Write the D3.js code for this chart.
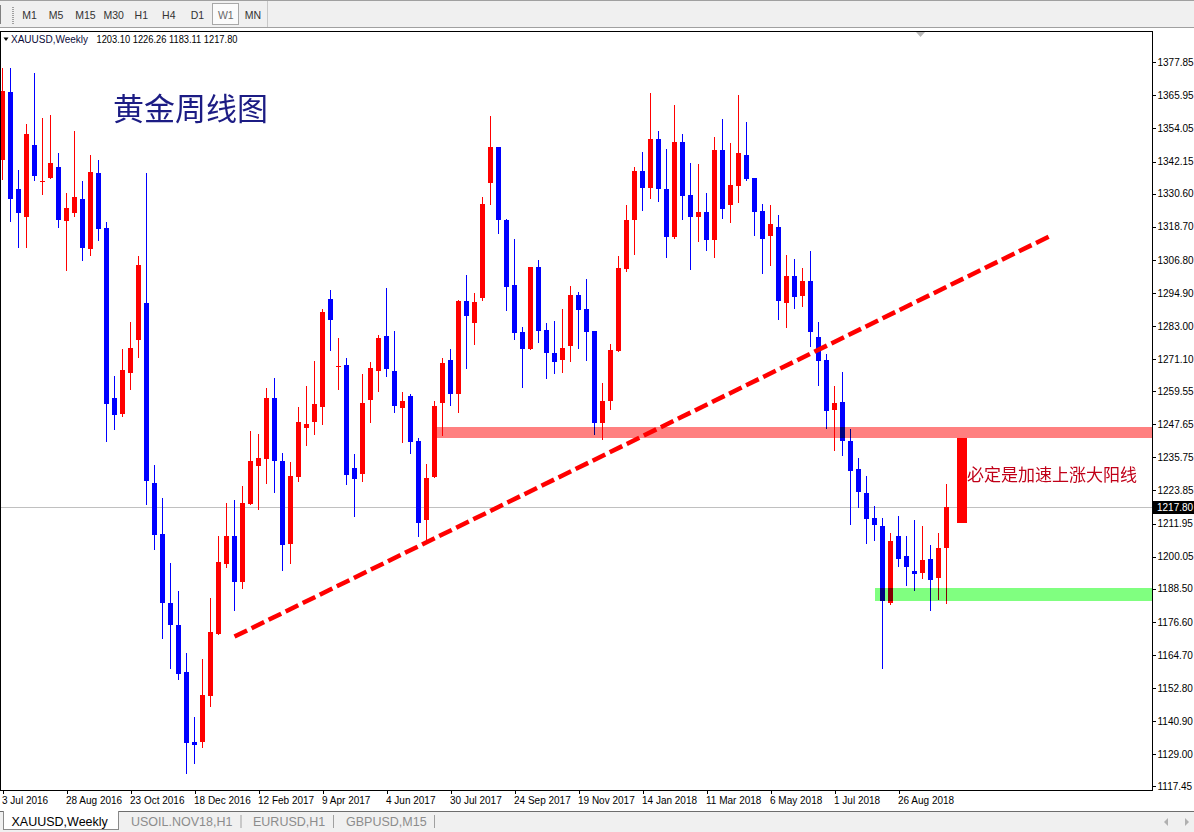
<!DOCTYPE html>
<html><head><meta charset="utf-8">
<script src="https://cdn.jsdelivr.net/npm/d3@7"></script>
<style>
html,body{margin:0;padding:0;background:#fff;overflow:hidden}
svg{display:block}
text{font-family:"Liberation Sans",Arial,sans-serif}
</style></head><body>
<svg id="c" width="1194" height="832"></svg>
<script>
// ---------------- data ----------------
const openP=[1342.8,1367.3,1332.2,1322.3,1348.1,1334.7,1336.3,1340.1,1320.8,1323.7,1328.6,1310.7,1338.0,1318.4,1257.1,1251.5,1266.2,1278.1,1291.4,1226.5,1208.1,1183.5,1175.6,1158.7,1133.5,1133.5,1150.0,1172.4,1197.3,1207.6,1190.8,1218.9,1232.6,1235.0,1257.1,1234.6,1204.5,1228.6,1246.3,1248.4,1253.8,1292.6,1268.2,1268.8,1232.0,1229.7,1256.4,1266.8,1279.3,1267.0,1253.5,1258.0,1241.7,1213.1,1228.6,1255.3,1270.6,1258.5,1291.9,1284.1,1293.1,1334.5,1347.3,1321.2,1297.7,1280.7,1274.7,1304.1,1281.5,1273.4,1270.8,1275.8,1294.1,1289.0,1281.1,1248.1,1256.0,1274.0,1303.5,1321.2,1338.7,1332.7,1350.2,1332.3,1315.0,1349.2,1330.1,1322.3,1323.9,1314.0,1346.3,1326.6,1333.4,1344.5,1336.2,1324.3,1315.4,1318.5,1291.3,1300.9,1293.8,1299.1,1278.9,1270.6,1252.8,1255.5,1241.5,1231.4,1223.1,1213.8,1211.2,1183.3,1207.3,1200.4,1195.0,1194.1,1199.3,1192.3,1203.10];
const highP=[1375.8,1375.7,1339.1,1355.6,1373.9,1357.7,1358.9,1345.1,1330.7,1353.1,1335.1,1344.4,1342.7,1320.3,1265.0,1274.8,1284.6,1308.3,1337.9,1232.9,1221.0,1197.6,1187.8,1165.5,1142.5,1163.4,1185.1,1207.4,1219.3,1220.6,1225.6,1245.1,1244.0,1260.7,1264.2,1237.2,1234.0,1253.8,1261.3,1270.3,1289.0,1295.9,1278.6,1271.4,1236.8,1265.6,1269.9,1279.7,1296.6,1281.2,1259.1,1258.4,1242.8,1233.2,1255.9,1271.4,1274.6,1292.5,1301.4,1294.8,1329.3,1358.5,1347.5,1321.4,1314.2,1282.5,1304.3,1306.7,1284.0,1284.7,1289.0,1297.4,1295.1,1299.8,1281.3,1262.4,1276.4,1308.1,1326.5,1340.1,1345.5,1366.8,1353.1,1346.6,1362.5,1352.0,1341.6,1341.2,1330.8,1351.0,1357.4,1348.8,1366.1,1356.4,1336.4,1326.8,1326.5,1322.9,1308.5,1307.0,1303.8,1309.9,1284.3,1272.8,1261.3,1266.3,1245.8,1235.4,1228.9,1218.1,1214.1,1208.7,1214.5,1207.3,1213.1,1211.2,1204.4,1208.4,1226.26];
const lowP=[1335.6,1320.5,1311.1,1311.1,1335.2,1330.3,1336.0,1318.3,1302.8,1322.3,1306.4,1308.2,1313.6,1241.2,1245.7,1250.1,1260.1,1271.4,1218.7,1202.4,1170.6,1159.8,1155.7,1121.9,1125.4,1131.4,1145.8,1171.9,1196.0,1180.4,1188.4,1218.5,1216.7,1226.1,1222.9,1194.8,1197.3,1226.8,1239.8,1243.7,1247.4,1274.0,1259.9,1225.7,1214.2,1226.8,1248.1,1259.2,1264.6,1251.7,1240.9,1236.9,1207.0,1205.8,1228.3,1243.6,1254.2,1251.7,1267.5,1276.2,1292.0,1326.6,1316.1,1288.4,1278.0,1260.7,1274.5,1276.9,1263.9,1265.7,1266.1,1270.0,1274.7,1270.4,1243.7,1241.9,1252.8,1273.8,1302.4,1308.6,1324.4,1328.7,1327.7,1307.5,1314.3,1321.2,1303.2,1313.2,1310.0,1307.5,1321.5,1320.1,1327.3,1335.2,1315.4,1301.7,1304.6,1285.2,1282.3,1289.1,1289.8,1275.4,1261.4,1245.9,1238.0,1236.2,1211.3,1217.5,1204.5,1205.6,1159.8,1182.5,1196.2,1189.4,1187.6,1191.9,1180.4,1184.3,1183.11];
const closeP=[1367.5,1328.7,1323.7,1352.0,1337.0,1335.2,1341.5,1321.2,1325.4,1329.3,1311.1,1338.3,1317.9,1254.8,1251.1,1267.2,1275.1,1304.8,1227.3,1207.9,1183.4,1175.4,1158.0,1132.9,1132.3,1150.4,1173.1,1198.3,1207.6,1190.8,1219.2,1234.3,1235.7,1257.1,1234.3,1204.1,1228.9,1248.3,1247.6,1254.8,1287.9,1285.2,1268.7,1229.3,1227.9,1255.2,1267.8,1278.6,1267.5,1254.2,1256.2,1241.2,1212.1,1228.5,1254.4,1269.6,1258.5,1291.9,1286.6,1291.5,1326.8,1347.3,1321.2,1297.0,1280.5,1274.7,1304.1,1281.2,1273.3,1270.0,1275.2,1294.1,1288.8,1280.8,1248.1,1255.9,1274.2,1303.8,1321.1,1338.7,1332.7,1350.2,1332.3,1315.0,1349.2,1329.8,1322.3,1323.9,1314.0,1346.3,1325.1,1333.7,1345.2,1335.9,1324.1,1314.3,1319.6,1292.0,1300.9,1293.4,1299.1,1280.8,1270.4,1252.4,1255.2,1241.6,1230.8,1223.2,1213.5,1211.3,1184.0,1205.8,1199.1,1196.2,1193.7,1199.0,1191.5,1203.3,1217.80];

const priceTicks=[1377.85,1365.95,1354.05,1342.15,1330.60,1318.70,1306.80,1294.90,1283.00,1271.10,1259.55,1247.65,1235.75,1223.85,1211.95,1200.05,1188.50,1176.60,1164.70,1152.80,1140.90,1129.00,1117.45];
const dateLabels=["3 Jul 2016","28 Aug 2016","23 Oct 2016","18 Dec 2016","12 Feb 2017","9 Apr 2017","4 Jun 2017","30 Jul 2017","24 Sep 2017","19 Nov 2017","14 Jan 2018","11 Mar 2018","6 May 2018","1 Jul 2018","26 Aug 2018"];
const dateStep=8;
const lastPrice=1217.80;
const headerText="XAUUSD,Weekly";
const headerValues="1203.10 1226.26 1183.11 1217.80";
const resistanceZone={from:54,top:1246.5,bottom:1242.7};
const supportZone={from:109,top:1188.9,bottom:1184.0};
const trendLine={i1:29,p1:1171.3,i2:130.9,p2:1315.3};
const forecastBar={i0:119.3,i1:120.55,top:1242.9,bottom:1212.1};
const titleText="黄金周线图";
const noteText="必定是加速上涨大阳线";
const timeframes=["M1","M5","M15","M30","H1","H4","D1","W1","MN"];
const timeframeX=[29.5,56,85.5,113.7,141.3,168.8,197.5,225.8,253];
const tabs=["XAUUSD,Weekly","USOIL.NOV18,H1","EURUSD,H1","GBPUSD,M15"];
const tabX=[11.5,131,253,346];

// ---------------- layout ----------------
const L=0,R=1152,T=31,B=790;
const svg=d3.select("#c");
const x=d3.scaleLinear().domain([0,openP.length-1]).range([2.5,2.5+8*(openP.length-1)]);
const y=d3.scaleLinear().domain([1117.45,1377.85]).range([786.3,62.3]);

svg.append("rect").attr("width",1194).attr("height",832).attr("fill","#fff");

const defs=svg.append("defs");
defs.append("clipPath").attr("id","plot").append("rect").attr("x",L+1).attr("y",T+1).attr("width",R-L-1).attr("height",B-T-1);

const plot=svg.append("g").attr("clip-path","url(#plot)");

// last price line
plot.append("line").attr("x1",L).attr("x2",R).attr("y1",Math.round(y(lastPrice))+0.5).attr("y2",Math.round(y(lastPrice))+0.5)
  .attr("stroke","#c0c0c0").attr("stroke-width",1);

// candles
const data=openP.map((o,i)=>({i,o,h:highP[i],l:lowP[i],c:closeP[i]}));
const cg=plot.append("g").attr("shape-rendering","crispEdges");
const col=d=>d.c>=d.o?"#ff0000":"#0000ff";
cg.selectAll(".wick").data(data).enter().append("rect")
  .attr("x",d=>x(d.i)-0.5).attr("width",1)
  .attr("y",d=>Math.round(y(d.h))).attr("height",d=>Math.max(1,Math.round(y(d.l))-Math.round(y(d.h))))
  .attr("fill",col);
cg.selectAll(".body").data(data).enter().append("rect")
  .attr("x",d=>x(d.i)-2.5).attr("width",5)
  .attr("y",d=>Math.round(y(Math.max(d.o,d.c))))
  .attr("height",d=>Math.max(1,Math.round(y(Math.min(d.o,d.c)))-Math.round(y(Math.max(d.o,d.c)))))
  .attr("fill",col);

// zones (multiply blend like MT4 background objects)
[[resistanceZone,"#ff8080"],[supportZone,"#80ff80"]].forEach(([z,c])=>{
  plot.append("rect").attr("x",x(z.from)).attr("width",R+3-x(z.from))
    .attr("y",Math.round(y(z.top))).attr("height",Math.round(y(z.bottom))-Math.round(y(z.top)))
    .attr("fill",c).style("mix-blend-mode","multiply").attr("shape-rendering","crispEdges");
});

// trend line
plot.append("line").attr("x1",x(trendLine.i1)).attr("y1",y(trendLine.p1))
  .attr("x2",x(trendLine.i2)).attr("y2",y(trendLine.p2))
  .attr("stroke","#ff0000").attr("stroke-width",4.5).attr("stroke-dasharray","14,5");

// forecast bar
plot.append("rect").attr("x",x(forecastBar.i0)).attr("width",x(forecastBar.i1)-x(forecastBar.i0))
  .attr("y",y(forecastBar.top)).attr("height",y(forecastBar.bottom)-y(forecastBar.top))
  .attr("fill","#ff0000").attr("shape-rendering","crispEdges");

// texts
plot.append("text").attr("x",113).attr("y",120).text(titleText)
  .style("font-family","'Noto Sans CJK SC',sans-serif").style("font-size","31px").attr("fill","#1c1c84");
plot.append("text").attr("x",967).attr("y",481).text(noteText)
  .style("font-family","'Noto Sans CJK SC',sans-serif").style("font-size","17px").attr("fill","#c00018");

// chart shift marker
plot.append("path").attr("d","M916,32 L925,32 L920.5,37 Z").attr("fill","#b8b8b8");

// header
const hdr=svg.append("g");
hdr.append("path").attr("d","M3.5,37.5 L8.5,37.5 L6,41 Z").attr("fill","#000");
hdr.append("text").attr("x",11).attr("y",43).text(headerText).style("font-size","10px").attr("fill","#0b0b3a");
hdr.append("text").attr("x",96.5).attr("y",43).text(headerValues).style("font-size","10px").attr("fill","#000")
  .attr("textLength",141).attr("lengthAdjust","spacingAndGlyphs");

// frame
svg.append("rect").attr("x",L+0.5).attr("y",T+0.5).attr("width",R-L).attr("height",B-T-0.5)
  .attr("fill","none").attr("stroke","#000").attr("stroke-width",1).attr("shape-rendering","crispEdges");

// right axis
const ya=svg.append("g").attr("transform",`translate(${R+0.5},0)`)
  .call(d3.axisRight(y).tickValues(priceTicks).tickSize(3).tickPadding(2).tickFormat(d=>d.toFixed(2)));
ya.select(".domain").remove();
ya.selectAll("line").attr("stroke","#000").attr("shape-rendering","crispEdges");
ya.selectAll("text").style("font-family","'Liberation Sans',Arial,sans-serif").style("font-size","10px").attr("fill","#000");

// last price box
const ly=y(lastPrice);
svg.append("rect").attr("x",R+1).attr("y",Math.round(ly)-6).attr("width",1194-R-1).attr("height",13).attr("fill","#000");
svg.append("text").attr("x",R+5).attr("y",ly).attr("dy","0.35em").text(lastPrice.toFixed(2))
  .style("font-size","10px").attr("fill","#fff");

// bottom axis
const dateIdx=dateLabels.map((d,k)=>k*dateStep);
const xa=svg.append("g").attr("transform",`translate(0,${B})`)
  .call(d3.axisBottom(x).tickValues(dateIdx).tickSize(4).tickPadding(3).tickFormat((d,k)=>dateLabels[k]));
xa.select(".domain").remove();
xa.selectAll("line").attr("stroke","#000").attr("shape-rendering","crispEdges");
xa.selectAll("text").attr("text-anchor","start").attr("x",-1)
  .style("font-family","'Liberation Sans',Arial,sans-serif").style("font-size","10px").attr("fill","#000");

// bottom tabs bar
svg.append("rect").attr("x",0).attr("y",812).attr("width",1194).attr("height",20).attr("fill","#f0f0f0");
svg.append("line").attr("x1",0).attr("x2",1194).attr("y1",811.5).attr("y2",811.5).attr("stroke","#6d6d6d");
svg.append("rect").attr("x",3.5).attr("y",811.5).attr("width",115).attr("height",18).attr("fill","#fff").attr("stroke","#8a8a8a");
svg.append("line").attr("x1",4).attr("x2",118).attr("y1",811.5).attr("y2",811.5).attr("stroke","#fff");
tabs.forEach((t,k)=>{
  svg.append("text").attr("x",tabX[k]).attr("y",826).text(t)
    .style("font-size","12.5px").attr("fill",k===0?"#000":"#8c8c8c");
});
[241,333.5,434.5].forEach(sx=>svg.append("line").attr("x1",sx).attr("x2",sx).attr("y1",815).attr("y2",828).attr("stroke","#a0a0a0"));
svg.append("path").attr("d","M1168,818 L1168,826 L1164,822 Z").attr("fill","#b0b0b0");
svg.append("path").attr("d","M1185,818 L1185,826 L1189,822 Z").attr("fill","#b0b0b0");

// top toolbar
svg.append("rect").attr("x",0).attr("y",0).attr("width",1194).attr("height",28).attr("fill","#f0f0f0");
svg.append("line").attr("x1",0).attr("x2",1194).attr("y1",0.5).attr("y2",0.5).attr("stroke","#a0a0a0");
svg.append("line").attr("x1",0).attr("x2",1194).attr("y1",27.5).attr("y2",27.5).attr("stroke","#a0a0a0");
svg.append("line").attr("x1",0.5).attr("x2",0.5).attr("y1",5).attr("y2",24).attr("stroke","#808080");
for(let gy=7;gy<25;gy+=2){svg.append("rect").attr("x",12).attr("y",gy).attr("width",2).attr("height",1).attr("fill","#a0a0a0");}
svg.append("rect").attr("x",212.5).attr("y",3.5).attr("width",26).attr("height",21).attr("fill","#fbfbfb").attr("stroke","#a8a8a8");
timeframes.forEach((t,k)=>{
  svg.append("text").attr("x",timeframeX[k]).attr("y",19).attr("text-anchor","middle").text(t)
    .style("font-size","10.5px").attr("fill",k===7?"#6a6a6a":"#333");
});
svg.append("line").attr("x1",267.5).attr("x2",267.5).attr("y1",1).attr("y2",27).attr("stroke","#c8c8c8");
</script>
</body></html>
